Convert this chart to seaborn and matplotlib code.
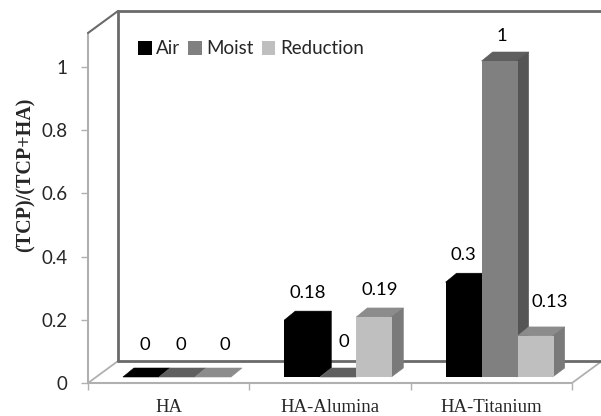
import pandas as pd
import seaborn as sns
import matplotlib.pyplot as plt
from matplotlib.patches import Polygon
from matplotlib.transforms import Affine2D

samples = ['HA', 'HA-Alumina', 'HA-Titanium']
air = [0, 0.18, 0.3]
moist = [0, 0, 1]
reduction = [0, 0.19, 0.13]
labels_air = ['0', '0.18', '0.3']
labels_moist = ['0', '0', '1']
labels_reduction = ['0', '0.19', '0.13']
y_ticks = [0, 0.2, 0.4, 0.6, 0.8, 1]
y_tick_labels = ['0', '0.2', '0.4', '0.6', '0.8', '1']

df = pd.DataFrame({'sample': samples * 3,
                   'atmosphere': ['Air'] * 3 + ['Moist'] * 3 + ['Reduction'] * 3,
                   'ratio': air + moist + reduction})

sns.set_style('white')
plt.rcParams['font.family'] = ['Lato', 'DejaVu Sans']

fig = plt.figure(figsize=(6.01, 4.16), dpi=100)
ax = fig.add_axes([88 / 601, 33 / 416, 484 / 601, 350 / 416])

front = ['#000000', '#808080', '#bfbfbf']
top = ['#000000', '#5f5f5f', '#8c8c8c']
side = ['#000000', '#555555', '#7a7a7a']

sns.barplot(data=df, x='sample', y='ratio', hue='atmosphere', palette=front,
            width=0.67, gap=0, saturation=1, errorbar=None, ax=ax, legend=False)

ax.set_xlim(-0.5, 2.5)
ax.set_ylim(0, 350 / 316)
xu = 3 / 484   # data units per pixel
yu = (350 / 316) / 350

# bars sit a little behind the front edge of the floor
bar_tr = ax.transData + Affine2D().translate(8.3, 6)
dx, dy = 11 * xu, 9 * yu

for h, cont in enumerate(ax.containers):
    for g, bar in enumerate(cont):
        x0, w, v = bar.get_x(), bar.get_width(), bar.get_height()
        z = 5 + g * 3 + h
        bar.set_linewidth(0)
        bar.set_transform(bar_tr)
        bar.set_clip_on(False)
        bar.set_zorder(z + 0.5)
        ax.add_patch(Polygon([(x0, v), (x0 + w, v), (x0 + w + dx, v + dy), (x0 + dx, v + dy)],
                             fc=top[h], ec=top[h], lw=0.4, transform=bar_tr, clip_on=False, zorder=z))
        # side face starts a pixel under the front face so no seam shows
        if v > 0:
            ax.add_patch(Polygon([(x0 + w - xu, 0), (x0 + w + dx, dy), (x0 + w + dx, v + dy), (x0 + w - xu, v)],
                                 fc=side[h], ec=side[h], lw=0.4, transform=bar_tr, clip_on=False, zorder=z))

# value labels, nudged in pixels from the top of each bar
all_labels = [labels_air, labels_moist, labels_reduction]
nudge_x = [[4, 4, 12], [5.5, 6, 5], [0, 2, 14]]
nudge_y = [[23, 23, 23], [18, 26, 18], [18, 16, 25]]
for h, cont in enumerate(ax.containers):
    for g, bar in enumerate(cont):
        ax.annotate(all_labels[h][g], (bar.get_x() + bar.get_width() / 2, bar.get_height() + dy),
                    xycoords=bar_tr, xytext=(nudge_x[g][h] * 0.72, nudge_y[g][h] * 0.72),
                    textcoords='offset points', ha='center', va='center',
                    fontsize=13.3, color='black', zorder=40)

# box lines
dark = '#6a6a6a'
light = '#b0b0b0'
bx, by = 30 * xu, 22 * yu
ymax = 350 / 316
ax.plot([-0.5, -0.5], [0, ymax], color=light, lw=1.5, clip_on=False, zorder=2)
ax.plot([-0.5, 2.5], [0, 0], color=light, lw=1.5, clip_on=False, zorder=2)
ax.plot([-0.5, -0.5 + bx], [0, by], color=light, lw=1.3, clip_on=False, zorder=2)
ax.plot([2.5, 2.5 + bx], [0, by], color=light, lw=1.3, clip_on=False, zorder=2)
ax.plot([-0.5 + bx, -0.5 + bx], [by, ymax + by], color=dark, lw=2, clip_on=False, zorder=2)
ax.plot([-0.5 + bx, 2.5 + bx], [by, by], color=dark, lw=2, clip_on=False, zorder=2)
ax.plot([-0.5 + bx, 2.5 + bx], [ymax + by, ymax + by], color=dark, lw=2, clip_on=False, zorder=2)
ax.plot([-0.5, -0.5 + bx], [ymax, ymax + by], color=dark, lw=1.5, clip_on=False, zorder=2)

sns.despine(ax=ax, left=True, bottom=True, right=True, top=True)
ax.patch.set_alpha(0)

ax.set_yticks(y_ticks)
ax.set_yticklabels(y_tick_labels, fontsize=13.5)
ax.set_xticks([-0.5, 0.5, 1.5, 2.5])
ax.set_xticklabels([])
ax.set_xticks([0, 1, 2], minor=True)
ax.set_xticklabels(samples, minor=True, fontsize=13.5, family='Liberation Serif')
ax.tick_params(axis='both', which='major', left=True, bottom=True, length=5, width=1, color=light, pad=3)
ax.tick_params(axis='x', which='minor', length=0, pad=11.5)
ax.tick_params(axis='y', pad=10)
ax.set_xlabel('')
ax.set_ylabel('(TCP)/(TCP+HA)', fontsize=14.5, fontweight='bold', family='Liberation Serif')
ax.yaxis.set_label_coords(-52 / 484, 208 / 350)

handles = [plt.Rectangle((0, 0), 1, 1, fc=c, lw=0) for c in front]
ax.legend(handles, ['Air', 'Moist', 'Reduction'], ncol=3, frameon=False, fontsize=13.5,
          loc='center left', bbox_to_anchor=(50 / 484, 1 - 16 / 350), borderpad=0, borderaxespad=0,
          handlelength=0.72, handleheight=0.72, handletextpad=0.25, columnspacing=0.42)

fig.savefig('out.png', dpi=100)
